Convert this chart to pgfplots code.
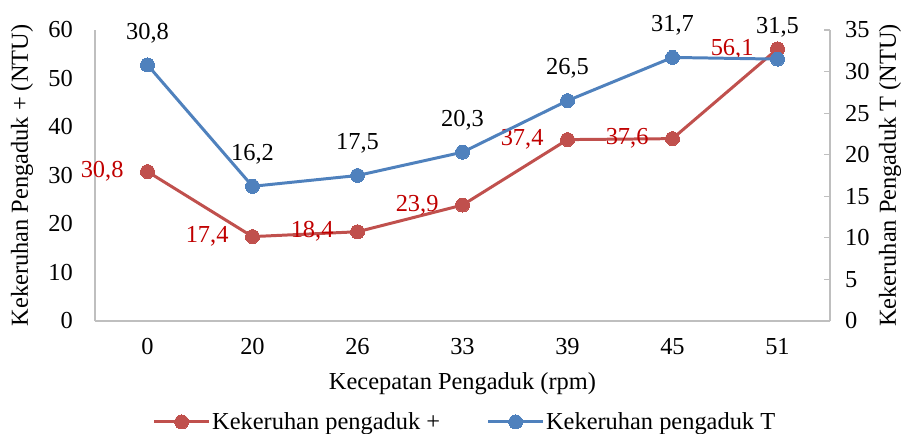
\documentclass[border=0pt]{standalone}
\usepackage{pgfplots}
\pgfplotsset{compat=1.18}
\usepackage{fontspec}
\setmainfont{Liberation Serif}
\definecolor{redS}{RGB}{192,80,77}
\definecolor{blueS}{RGB}{79,129,189}
\definecolor{lblred}{RGB}{192,0,0}
\definecolor{axgray}{RGB}{191,191,191}
\newcommand{\chartfont}{\fontsize{24.5}{28}\selectfont}

\pgfplotsset{
  common/.style={
    scale only axis, width=735bp, height=291bp,
    xmin=-0.5, xmax=6.5, ymin=0,
    /pgf/number format/assume math mode=true,
    tick label style={font=\chartfont, inner sep=0pt},
    label style={font=\chartfont},
    axis line style={axgray, line width=1.3pt, -},
    tick style={axgray, line width=1.2pt},
    point meta=y,
    nodes near coords={\pgfmathprintnumber[use comma, fixed, fixed zerofill, precision=1]{\pgfplotspointmeta}},
  },
  serie/.style={color=#1, line width=3pt, mark=*, mark size=7bp,
    mark options={fill=#1, draw=#1, line width=0pt}},
}

\begin{document}
\begin{tikzpicture}
\begin{axis}[
  common, name=main,
  ymax=60, ytick={0,10,...,60},
  xtick={0,...,6}, xticklabels={0,20,26,33,39,45,51},
  axis y line*=left, axis x line*=bottom,
  major tick length=0pt,
  yticklabel style={anchor=east, xshift=-22bp},
  xticklabel style={anchor=center, yshift=-26bp},
  xlabel={Kecepatan Pengaduk (rpm)},
  ylabel={Kekeruhan Pengaduk + (NTU)},
  xlabel style={at={(axis description cs:0.5,-0.215)}, anchor=center},
  ylabel style={at={(axis description cs:-0.0993,0.5)}, anchor=center, rotate=0},
  legend style={at={(axis description cs:0.503,-0.347)}, anchor=center, draw=none,
    font=\chartfont, legend columns=2, inner sep=0pt,
    nodes={inner sep=1.5bp},
    /tikz/column 2/.style={column sep=45bp}},
  legend image code/.code={
    \draw[#1, mark repeat=2, mark phase=2] plot coordinates {(0bp,0bp)(27.5bp,0bp)(55bp,0bp)};},
]
\addplot[serie=redS,
  nodes near coords style={anchor=east, xshift=-24bp, inner sep=0pt, text=lblred, font=\chartfont}]
  coordinates {(0,30.8) (1,17.4) (2,18.4) (3,23.9) (4,37.4) (5,37.6) (6,56.1)};
\addlegendentry{Kekeruhan pengaduk +}
\addlegendimage{serie=blueS}
\addlegendentry{Kekeruhan pengaduk T}
\end{axis}
\begin{axis}[
  common,
  ymax=35, ytick={0,5,...,35},
  axis y line*=right, axis x line=none,
  ytick align=inside, major tick length=6bp,
  yticklabel style={anchor=west, xshift=15bp},
  ylabel={Kekeruhan Pengaduk T (NTU)},
  ylabel style={at={(axis description cs:1.0816,0.5)}, anchor=center, rotate=0},
]
\addplot[serie=blueS,
  nodes near coords style={anchor=center, yshift=32bp, text=black, font=\chartfont}]
  coordinates {(0,30.8) (1,16.2) (2,17.5) (3,20.3) (4,26.5) (5,31.7) (6,31.5)};
\end{axis}
\pgfresetboundingbox
\path[use as bounding box] ([shift={(-95bp,-113bp)}]main.south west)
  rectangle ([shift={(809bp,321bp)}]main.south west);
\end{tikzpicture}
\end{document}
